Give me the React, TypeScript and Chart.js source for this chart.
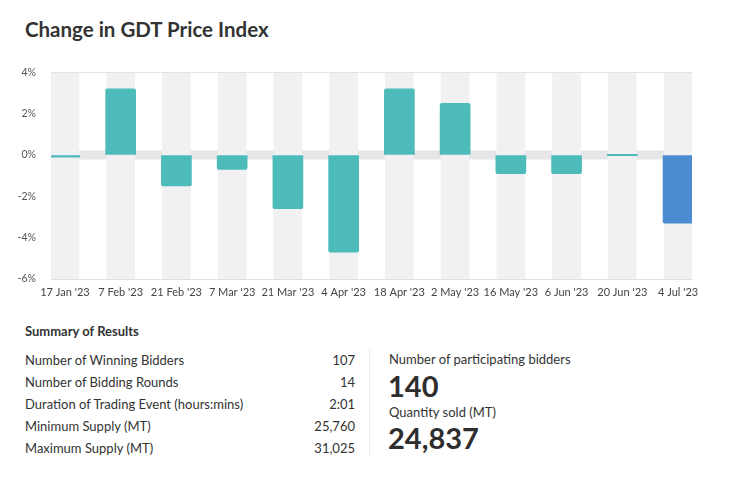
import React, { useEffect, useRef } from 'react';
import { Chart, registerables } from 'chart.js';

Chart.register(...registerables);

const categories = ["17 Jan '23", "7 Feb '23", "21 Feb '23", "7 Mar '23", "21 Mar '23", "4 Apr '23", "18 Apr '23", "2 May '23", "16 May '23", "6 Jun '23", "20 Jun '23", "4 Jul '23"];
const changes = [-0.1, 3.2, -1.5, -0.7, -2.6, -4.7, 3.2, 2.5, -0.9, -0.9, 0.0, -3.3];
const latestIndex = 11;
const yMin = -6;
const yMax = 4;
const yStep = 2;

const summaryLabels = [
  'Number of Winning Bidders',
  'Number of Bidding Rounds',
  'Duration of Trading Event (hours:mins)',
  'Minimum Supply (MT)',
  'Maximum Supply (MT)',
];
const summaryValues = ['107', '14', '2:01', '25,760', '31,025'];
const participatingBidders = '140';
const quantitySold = '24,837';

const TEAL = '#4dbbb9';
const BLUE = '#4a8bd1';
const FONT = 'Lato, "Noto Sans", sans-serif';

const zeroBand = {
  id: 'zeroBand',
  beforeDatasetsDraw(chart: any) {
    const { ctx, chartArea, scales } = chart;
    const y0 = scales.y.getPixelForValue(0);
    ctx.save();
    ctx.fillStyle = '#e6e6e9';
    ctx.fillRect(chartArea.left, y0 - 4.5, chartArea.right - chartArea.left, 9);
    ctx.restore();
  },
};

function GdtChart() {
  const ref = useRef<HTMLCanvasElement>(null);
  useEffect(() => {
    if (!ref.current) return;
    const chart = new Chart(ref.current, {
      type: 'bar',
      data: {
        datasets: [
          {
            label: 'Change',
            data: changes.map((v, i) => ({ x: i, y: v })) as any,
            backgroundColor: changes.map((_, i) => (i === latestIndex ? BLUE : TEAL)),
            barThickness: 30,
            borderRadius: 2,
            minBarLength: 1.5,
            grouped: false,
            order: 0,
          } as any,
          {
            label: 'bg',
            data: categories.map((_, i) => ({ x: i, y: [yMin, yMax] })) as any,
            backgroundColor: '#f1f1f4',
            barThickness: 28,
            grouped: false,
            order: 1,
          } as any,
        ],
      },
      options: {
        responsive: false,
        animation: false,
        layout: { padding: { left: 0, right: 55, top: 2, bottom: 0 } },
        plugins: { legend: { display: false }, tooltip: { enabled: false }, title: { display: false } },
        scales: {
          x: {
            type: 'linear',
            min: -0.25,
            max: 11.25,
            offset: false,
            z: 1,
            grid: { display: false, drawTicks: false, offset: false },
            border: { display: true, color: '#e0e0e2', width: 1 },
            afterBuildTicks: (s: any) => {
              s.ticks = categories.map((_, i) => ({ value: i }));
            },
            afterFit: (s: any) => {
              s.height = 26;
            },
            ticks: {
              autoSkip: false,
              maxRotation: 0,
              padding: 7,
              color: '#444',
              font: { family: FONT, size: 11 },
              callback: (v: any) => categories[v as number] ?? '',
            },
          },
          y: {
            min: yMin,
            max: yMax,
            afterFit: (s: any) => {
              s.width = 51;
            },
            border: { display: false },
            grid: {
              drawTicks: false,
              z: 1,
              color: (ctx: any) => (ctx.tick && ctx.tick.value === yMax ? '#e3e3e5' : 'rgba(0,0,0,0)'),
            },
            ticks: {
              stepSize: yStep,
              padding: 15,
              color: '#555',
              font: { family: FONT, size: 10.5 },
              callback: (v: any) => `${v}%`,
            },
          },
        },
      },
      plugins: [zeroBand],
    } as any);
    return () => chart.destroy();
  }, []);
  return <canvas ref={ref} width={747} height={254} style={{ width: 747, height: 254, display: 'block' }} />;
}

export default function App() {
  const text: React.CSSProperties = { position: 'absolute', fontFamily: FONT, color: '#333', whiteSpace: 'nowrap' };
  return (
    <div style={{ position: 'fixed', left: 0, top: 0, width: 747, height: 502, background: '#fff', overflow: 'hidden' }}>
      <div style={{ ...text, left: 25, top: 17, fontSize: 20.5, lineHeight: '24px', fontWeight: 700 }}>Change in GDT Price Index</div>
      <div style={{ position: 'absolute', left: 0, top: 51 }}>
        <GdtChart />
      </div>
      <div style={{ ...text, left: 25, top: 323, fontSize: 13, lineHeight: '16px', fontWeight: 700 }}>Summary of Results</div>
      {summaryLabels.map((l, i) => (
        <React.Fragment key={l}>
          <div style={{ ...text, left: 25, top: 352 + i * 22, fontSize: 13, lineHeight: '16px' }}>{l}</div>
          <div style={{ ...text, right: 747 - 355, top: 352 + i * 22, fontSize: 13, lineHeight: '16px', textAlign: 'right' }}>{summaryValues[i]}</div>
        </React.Fragment>
      ))}
      <div style={{ position: 'absolute', left: 369, top: 348, width: 1, height: 110, background: '#eeeeef' }} />
      <div style={{ ...text, left: 389, top: 351, fontSize: 13, lineHeight: '16px' }}>Number of participating bidders</div>
      <div style={{ ...text, left: 388, top: 367.5, fontSize: 29, lineHeight: '35px', fontWeight: 700, color: '#2e2e2e' }}>{participatingBidders}</div>
      <div style={{ ...text, left: 389, top: 404, fontSize: 13, lineHeight: '16px' }}>Quantity sold (MT)</div>
      <div style={{ ...text, left: 388, top: 419.5, fontSize: 29, lineHeight: '35px', fontWeight: 700, color: '#2e2e2e' }}>{quantitySold}</div>
    </div>
  );
}
